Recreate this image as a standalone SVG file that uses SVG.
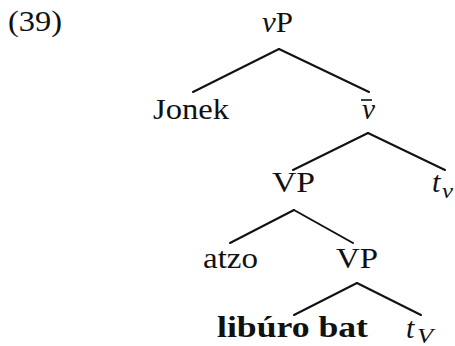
<svg xmlns="http://www.w3.org/2000/svg" width="455" height="346" viewBox="0 0 455 346">
<style>
text{font-family:"Liberation Serif","DejaVu Serif","Times New Roman",serif;font-size:30px;fill:#111}
.it{font-style:italic}
.b{font-weight:bold}
.sub{font-size:20px;font-style:italic}
.edge{stroke:#111;stroke-width:2;fill:none;stroke-linecap:round}
</style>
<rect width="455" height="346" fill="#fff"/>
<text id="label" x="8" y="31" textLength="54" lengthAdjust="spacingAndGlyphs">(39)</text>
<g id="connectors">
<line class="edge" x1="279" y1="49" x2="193" y2="92"/>
<line class="edge" x1="279" y1="49" x2="369" y2="92"/>
<line class="edge" x1="368" y1="133" x2="293" y2="170"/>
<line class="edge" x1="368" y1="133" x2="445" y2="170"/>
<line class="edge" x1="294" y1="210" x2="230" y2="243"/>
<line class="edge" x1="294" y1="210" x2="353" y2="243"/>
<line class="edge" x1="357" y1="283" x2="294" y2="315"/>
<line class="edge" x1="357" y1="283" x2="421" y2="315"/>
</g>
<g id="vP"><text x="262" y="32" textLength="31" lengthAdjust="spacingAndGlyphs"><tspan class="it">v</tspan>P</text></g>
<g id="Jonek"><text x="153" y="119" textLength="76" lengthAdjust="spacingAndGlyphs">Jonek</text></g>
<g id="vbar"><text class="it" x="362" y="119" textLength="13" lengthAdjust="spacingAndGlyphs">v</text><line x1="361" y1="100" x2="372" y2="100" stroke="#111" stroke-width="1.6"/></g>
<g id="VP1"><text x="272" y="192" textLength="43" lengthAdjust="spacingAndGlyphs">VP</text></g>
<g id="tv"><text class="it" x="432" y="192">t</text><text class="sub" x="442" y="198" textLength="11" lengthAdjust="spacingAndGlyphs">v</text></g>
<g id="atzo"><text x="203" y="268" textLength="55" lengthAdjust="spacingAndGlyphs">atzo</text></g>
<g id="VP2"><text x="336" y="268" textLength="42" lengthAdjust="spacingAndGlyphs">VP</text></g>
<g id="liburo"><text class="b" x="217" y="337" textLength="151" lengthAdjust="spacingAndGlyphs">libúro bat</text></g>
<g id="tV"><text class="it" x="406" y="338">t</text><text class="sub" x="417" y="343" textLength="16" lengthAdjust="spacingAndGlyphs">V</text></g>
</svg>
